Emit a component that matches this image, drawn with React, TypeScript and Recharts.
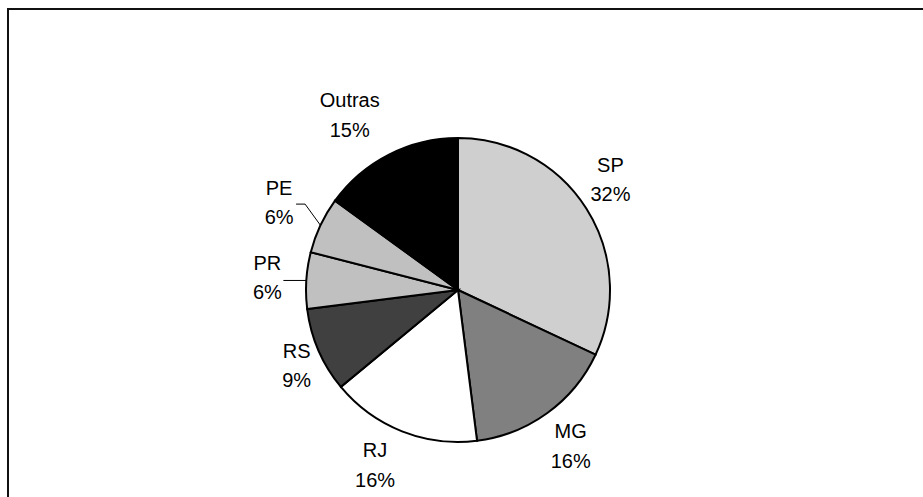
import { PieChart, Pie, Cell } from 'recharts';

const states = ['SP', 'MG', 'RJ', 'RS', 'PR', 'PE', 'Outras'];
const shares = [32, 16, 16, 9, 6, 6, 15];
const sliceColors = ['#cfcfcf', '#808080', '#ffffff', '#404040', '#c0c0c0', '#c0c0c0', '#000000'];

// small hand nudges so the labels sit where the original put them
const labelNudge: Record<string, [number, number]> = {
  SP: [-8, -9],
  MG: [1, 2],
  RJ: [-13, -2],
  RS: [13, 0],
  PR: [-1, -1],
  PE: [-7, -7],
  Outras: [-22, -6],
};
const withLeader = ['PE', 'PR'];

const RADIAN = Math.PI / 180;

const chartData = states.map((name, i) => ({ name, value: shares[i] }));

function renderLabel(props: any) {
  const { cx, cy, midAngle, outerRadius, name, value } = props;
  const cos = Math.cos(-midAngle * RADIAN);
  const sin = Math.sin(-midAngle * RADIAN);
  const [nx, ny] = labelNudge[name] || [0, 0];
  const x = cx + (outerRadius + 38) * cos + nx;
  const y = cy + (outerRadius + 38) * sin + ny;

  let leader = null;
  if (withLeader.includes(name)) {
    const ex = cx + outerRadius * cos;
    const ey = cy + outerRadius * sin;
    const pts =
      name === 'PE'
        ? `${ex},${ey} ${x + 26},${y + 2} ${x + 17},${y + 2}`
        : `${ex},${ey} ${x + 16},${ey}`;
    leader = <polyline points={pts} fill="none" stroke="#000" strokeWidth={1} />;
  }

  return (
    <g key={`lbl-${name}`}>
      {leader}
      <text
        x={x}
        y={y - 7.5}
        textAnchor="middle"
        fill="#000"
        fontSize={20}
        fontFamily="'Liberation Sans', Arial, sans-serif"
      >
        {name}
      </text>
      <text
        x={x}
        y={y + 22}
        textAnchor="middle"
        fill="#000"
        fontSize={20}
        fontFamily="'Liberation Sans', Arial, sans-serif"
      >
        {`${value}%`}
      </text>
    </g>
  );
}

export default function App() {
  return (
    <div
      style={{
        position: 'absolute',
        left: 0,
        top: 0,
        width: 923,
        height: 497,
        overflow: 'hidden',
        background: '#fff',
      }}
    >
      <div
        style={{
          position: 'absolute',
          left: 7,
          top: 8,
          width: 960,
          height: 600,
          border: '2px solid #111',
        }}
      />
      <div style={{ position: 'absolute', left: 0, top: 0 }}>
        <PieChart width={923} height={497} margin={{ top: 0, right: 0, bottom: 0, left: 0 }}>
          <Pie
            data={chartData}
            dataKey="value"
            nameKey="name"
            cx={458}
            cy={290}
            outerRadius={152}
            startAngle={90}
            endAngle={-270}
            stroke="#000"
            strokeWidth={2}
            label={renderLabel}
            labelLine={false}
            isAnimationActive={false}
          >
            {chartData.map((entry, i) => (
              <Cell key={entry.name} fill={sliceColors[i]} />
            ))}
          </Pie>
        </PieChart>
      </div>
    </div>
  );
}
